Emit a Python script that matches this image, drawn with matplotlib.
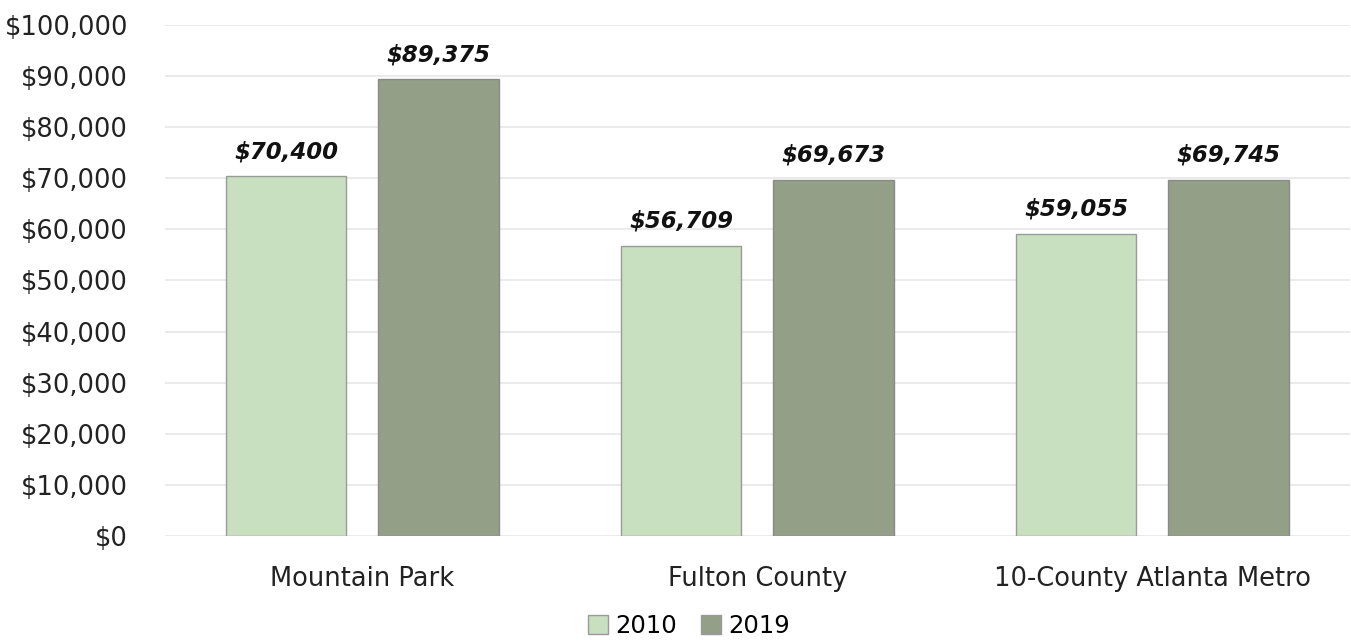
import numpy as np
import matplotlib.pyplot as plt

categories = ["Mountain Park", "Fulton County", "10-County Atlanta Metro"]
years = ["2010", "2019"]
values_2010 = [70400, 56709, 59055]
values_2019 = [89375, 69673, 69745]
labels_2010 = ["$70,400", "$56,709", "$59,055"]
labels_2019 = ["$89,375", "$69,673", "$69,745"]

colors = ["#c8dfc0", "#939f86"]

fig = plt.figure(figsize=(13.51, 6.44), dpi=100)
ax = fig.add_axes([0.122, 0.168, 0.877, 0.793])

x = np.arange(len(categories))
w = 0.306
off = 0.193
b1 = ax.bar(x - off, values_2010, w, color=colors[0], edgecolor="#9a9a9a", linewidth=1, label=years[0], zorder=3)
b2 = ax.bar(x + off, values_2019, w, color=colors[1], edgecolor="#8a8a8a", linewidth=1, label=years[1], zorder=3)

for bars, labs in [(b1, labels_2010), (b2, labels_2019)]:
    for rect, lab in zip(bars, labs):
        ax.text(rect.get_x() + rect.get_width() / 2, rect.get_height() + 2600, lab,
                ha="center", va="bottom", fontsize=16.5, fontweight="bold", style="italic", color="#111111")

ax.set_xlim(-0.5, 2.5)
ax.set_ylim(0, 100000)
ax.set_yticks(np.arange(0, 100001, 10000))
ax.set_yticklabels(["${:,}".format(v) for v in range(0, 100001, 10000)])
ax.set_xticks(x)
ax.set_xticklabels(categories)
ax.tick_params(axis="both", length=0, labelsize=18.5, colors="#222222")
ax.tick_params(axis="x", pad=22)
ax.tick_params(axis="y", pad=26.5)
ax.grid(axis="y", color="#e6e6e6", linewidth=1.2, zorder=0)
for s in ax.spines.values():
    s.set_visible(False)

leg = fig.legend(loc="lower center", bbox_to_anchor=(0.51, -0.025), ncol=2, frameon=False,
                 fontsize=17.5, handlelength=0.8, handleheight=0.8, handletextpad=0.3, columnspacing=1.0)
for h in leg.legend_handles:
    h.set_edgecolor("#9a9a9a")

fig.savefig("out.png", dpi=100)
